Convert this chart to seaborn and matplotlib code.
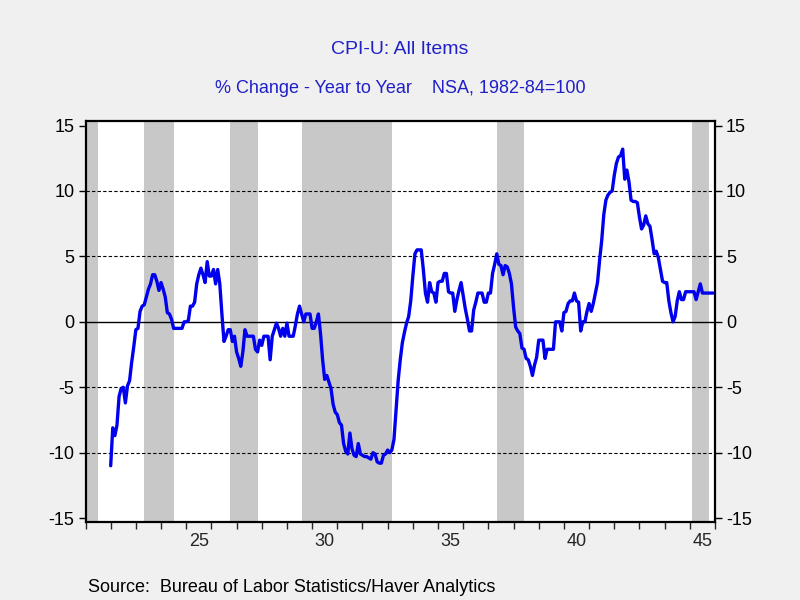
import pandas as pd
import matplotlib
matplotlib.use("Agg")
import matplotlib.pyplot as plt
import seaborn as sns

# CPI-U all items, % change year to year, monthly (Jan..Dec)
yoy_1922 = [-11.0, -8.1, -8.7, -7.9, -5.7, -5.1, -5.0, -6.2, -4.9, -4.5, -3.1, -1.9]
yoy_1923 = [-0.6, -0.5, 0.8, 1.2, 1.3, 1.9, 2.5, 2.9, 3.6, 3.6, 3.1, 2.4]
yoy_1924 = [3.0, 2.5, 1.9, 0.7, 0.6, 0.2, -0.5, -0.5, -0.5, -0.5, -0.5, 0.0]
yoy_1925 = [0.0, 0.1, 1.2, 1.2, 1.5, 2.9, 3.6, 4.1, 3.6, 3.0, 4.6, 3.5]
yoy_1926 = [3.5, 4.0, 2.9, 4.0, 2.9, 0.6, -1.5, -1.1, -0.6, -0.6, -1.5, -1.1]
yoy_1927 = [-2.3, -2.8, -3.4, -2.3, -0.6, -1.1, -1.1, -1.1, -1.1, -2.1, -2.3, -1.4]
yoy_1928 = [-1.8, -1.1, -1.1, -1.1, -2.9, -1.1, -0.6, -0.1, -0.5, -1.1, -0.5, -1.1]
yoy_1929 = [-0.1, -1.1, -1.1, -1.1, -0.3, 0.6, 1.2, 0.6, 0.0, 0.6, 0.6, 0.6]
yoy_1930 = [-0.5, -0.5, 0.0, 0.6, -0.9, -2.9, -4.4, -4.1, -4.6, -5.1, -6.3, -6.9]
yoy_1931 = [-7.1, -7.7, -7.9, -9.3, -9.9, -10.1, -8.5, -9.7, -10.2, -10.3, -9.3, -10.1]
yoy_1932 = [-10.2, -10.3, -10.3, -10.4, -10.5, -10.0, -10.1, -10.7, -10.8, -10.8, -10.2, -10.1]
yoy_1933 = [-9.8, -10.0, -9.8, -9.0, -6.8, -4.5, -2.9, -1.6, -0.8, -0.1, 0.4, 1.6]
yoy_1934 = [3.5, 5.2, 5.5, 5.5, 5.5, 4.0, 2.2, 1.5, 3.0, 2.3, 2.2, 1.5]
yoy_1935 = [3.0, 3.1, 3.1, 3.7, 3.7, 2.3, 2.2, 2.2, 0.8, 1.7, 2.4, 3.0]
yoy_1936 = [2.0, 1.0, 0.2, -0.7, -0.7, 0.9, 1.5, 2.2, 2.2, 2.2, 1.5, 1.5]
yoy_1937 = [2.2, 2.2, 3.7, 4.4, 5.2, 4.4, 4.3, 3.6, 4.3, 4.2, 3.7, 2.9]
yoy_1938 = [1.1, -0.4, -0.7, -0.9, -2.0, -2.1, -2.8, -2.9, -3.4, -4.1, -3.3, -2.7]
yoy_1939 = [-1.4, -1.4, -1.4, -2.8, -2.1, -2.1, -2.1, -2.1, 0.0, 0.0, 0.0, -0.7]
yoy_1940 = [0.7, 0.8, 1.4, 1.6, 1.6, 2.2, 1.6, 1.5, -0.7, 0.0, 0.0, 0.8]
yoy_1941 = [1.4, 0.8, 1.4, 2.2, 3.0, 4.7, 6.2, 8.2, 9.3, 9.7, 9.9, 10.0]
yoy_1942 = [11.2, 12.1, 12.6, 12.7, 13.2, 10.9, 11.6, 10.7, 9.3, 9.2, 9.2, 9.1]
yoy_1943 = [8.0, 7.1, 7.4, 8.1, 7.5, 7.3, 6.3, 5.2, 5.4, 4.9, 4.0, 3.1]
yoy_1944 = [3.0, 3.0, 1.6, 0.7, 0.0, 0.4, 1.6, 2.3, 1.7, 1.7, 2.3, 2.3]
yoy_1945 = [2.3, 2.3, 2.3, 1.7, 2.3, 2.9, 2.2, 2.2, 2.2, 2.2, 2.2, 2.2]

years = list(range(1922, 1946))
series = [yoy_1922, yoy_1923, yoy_1924, yoy_1925, yoy_1926, yoy_1927, yoy_1928,
          yoy_1929, yoy_1930, yoy_1931, yoy_1932, yoy_1933, yoy_1934, yoy_1935,
          yoy_1936, yoy_1937, yoy_1938, yoy_1939, yoy_1940, yoy_1941, yoy_1942,
          yoy_1943, yoy_1944, yoy_1945]

# NBER recessions (year, month): peak -> trough
rec_start = [(1920, 1), (1923, 5), (1926, 10), (1929, 8), (1937, 5), (1945, 2)]
rec_end = [(1921, 7), (1924, 7), (1927, 11), (1933, 3), (1938, 6), (1945, 10)]

y_ticks = [-15, -10, -5, 0, 5, 10, 15]
x_labels = ["25", "30", "35", "40", "45"]
x_label_years = [1925, 1930, 1935, 1940, 1945]

rows = []
for yr, vals in zip(years, series):
    for m, v in enumerate(vals):
        rows.append({"date": yr + m / 12, "yoy": v})
df = pd.DataFrame(rows)

sns.set_style("white")
plt.rcParams["font.family"] = ["Liberation Sans", "DejaVu Sans"]

bg = "#f0f0f0"
title_blue = "#2020c8"

fig = plt.figure(figsize=(8, 6), dpi=100, facecolor=bg)
ax = fig.add_axes([85.5 / 800, 1 - 522 / 600, (715 - 85.5) / 800, (522 - 121) / 600])
ax.set_facecolor("white")

for (y0, m0), (y1, m1) in zip(rec_start, rec_end):
    ax.axvspan(y0 + (m0 - 1) / 12, y1 + (m1 - 1) / 12, color="#c8c8c8", lw=0, zorder=0)

for g in [-10, -5, 5, 10]:
    ax.axhline(g, color="black", lw=0.8, ls=(0, (3, 2)), zorder=1)
ax.axhline(0, color="black", lw=1.0, zorder=1)

sns.lineplot(data=df, x="date", y="yoy", color="#0000ee", lw=2.4, ax=ax, zorder=3)

ax.set_xlim(1921, 1946)
ax.set_ylim(-15.3, 15.35)
ax.set_xlabel("")
ax.set_ylabel("")

ax.set_yticks(y_ticks)
ax.set_yticklabels([str(t) for t in y_ticks])
ax.tick_params(axis="y", which="major", direction="out", length=5, width=1,
               left=True, right=True, labelleft=True, labelright=True,
               labelsize=13, pad=3, colors="black")

ax.set_xticks(list(range(1921, 1947)))
ax.set_xticklabels([])
ax.set_xticks([y + 0.5 for y in x_label_years], minor=True)
ax.set_xticklabels(x_labels, minor=True)
ax.tick_params(axis="x", which="major", direction="out", length=5, width=1, bottom=True)
ax.tick_params(axis="x", which="minor", length=0, labelsize=13, pad=8)

for s in ax.spines.values():
    s.set_visible(True)
    s.set_color("black")
    s.set_linewidth(1.6)

fig.text(0.5, 1 - 50 / 600, "CPI-U: All Items", ha="center", va="center",
         fontsize=14, color=title_blue)
fig.text(0.5, 1 - 88 / 600, "% Change - Year to Year    NSA, 1982-84=100",
         ha="center", va="center", fontsize=13, color=title_blue)
fig.text(88 / 800, 1 - 588 / 600, "Source:  Bureau of Labor Statistics/Haver Analytics",
         ha="left", va="center", fontsize=13, color="black")

fig.savefig("out.png", dpi=100, facecolor=bg)
